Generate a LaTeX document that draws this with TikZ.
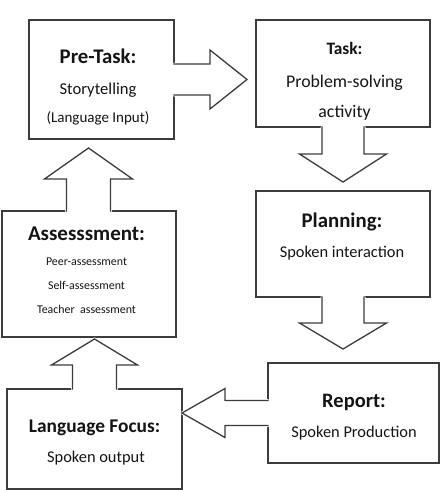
\documentclass[tikz,border=0pt]{standalone}
\usepackage{fontspec}
\setmainfont{Carlito}
\usetikzlibrary{calc}
\definecolor{ln}{HTML}{3C3C3C}
\definecolor{tx}{HTML}{141414}
\tikzset{
  x=1pt, y=-1pt,
  box/.style={draw=ln, line width=1.3pt, inner sep=0pt, outer sep=0pt},
  lbl/.style={anchor=base, inner sep=0pt, text=tx},
  arrline/.style={draw=ln, line width=1.3pt, line join=miter, line cap=rect},
}
\newcommand\fsz[1]{\fontsize{#1}{#1}\selectfont}
\newcommand\blockarr[1]{\filldraw[white, line width=3pt, line join=bevel] #1 -- cycle; \draw[arrline] #1;}
\begin{document}
\begin{tikzpicture}
\useasboundingbox (0,0) rectangle (440,490);
% boxes
\node[box, minimum width=145, minimum height=119] (pre) at (101.5,79.5) {};
\node[box, minimum width=174, minimum height=107] (task) at (343,73.5) {};
\node[box, minimum width=174, minimum height=106] (plan) at (343,244) {};
\node[box, minimum width=174, minimum height=126] (assess) at (89,274) {};
\node[box, minimum width=171, minimum height=100] (report) at (353.5,413) {};
\node[box, minimum width=175, minimum height=100] (lf) at (94.5,439) {};
% block arrows
\blockarr{($(pre.east)+(0,-15.5)$) -- ++(36,0) -- ++(0,-14) -- ++(37,29.5) -- ++(-37,29.5) -- ++(0,-14) -- ++(-36,0)}
\blockarr{($(task.south)+(-21,0)$) -- ++(0,27) -- ++(-22.5,0) -- ++(43.5,28) -- ++(43.5,-28) -- ++(-22.5,0) -- ++(0,-27)}
\blockarr{($(plan.south)+(-21,0)$) -- ++(0,26) -- ++(-22.5,0) -- ++(43.5,26) -- ++(43.5,-26) -- ++(-22.5,0) -- ++(0,-26)}
\blockarr{($(report.west)+(0,-12.5)$) -- ++(-43,0) -- ++(0,-12) -- ++(-43,24.5) -- ++(43,24.5) -- ++(0,-12) -- ++(43,0)}
\blockarr{($(lf.north)+(-22,0)$) -- ++(0,-24) -- ++(-21,0) -- ++(43,-26) -- ++(43,26) -- ++(-21,0) -- ++(0,24)}
\blockarr{($(assess.north)+(-22.5,0)$) -- ++(0,-32) -- ++(-22,0) -- ++(44,-31) -- ++(44,31) -- ++(-22,0) -- ++(0,32)}
% texts
\node[lbl] (pre1) at (98,63) {\fsz{20.8}\bfseries Pre-Task:};
\node[lbl] (pre2) at (98,94) {\fsz{16.6}Storytelling};
\node[lbl] (pre3) at (98,122) {\fsz{15}(Language Input)};
\node[lbl] (task1) at (344.5,54) {\fsz{17.4}\bfseries Task:};
\node[lbl] (task2) at (344.5,87) {\fsz{17.8}Problem-solving};
\node[lbl] (task3) at (344.5,117) {\fsz{17.8}activity};
\node[lbl] (plan1) at (342,227) {\fsz{20.8}\bfseries Planning:};
\node[lbl] (plan2) at (342,257) {\fsz{16.4}Spoken interaction};
\node[lbl] (as1) at (86.5,240) {\fsz{21}\bfseries Assesssment:};
\node[lbl] (as2) at (86.5,265) {\fsz{11.9}Peer-assessment};
\node[lbl] (as3) at (86.5,289) {\fsz{11.9}Self-assessment};
\node[lbl] (as4) at (86.5,313) {\fsz{11.9}Teacher\ \ assessment};
\node[lbl] (rep1) at (354,407) {\fsz{20.5}\bfseries Report:};
\node[lbl] (rep2) at (354,437) {\fsz{16.4}Spoken Production};
\node[lbl] (lf1) at (94.5,432) {\fsz{19.4}\bfseries Language Focus:};
\node[lbl] (lf2) at (96,462) {\fsz{16.4}Spoken output};
\end{tikzpicture}
\end{document}
